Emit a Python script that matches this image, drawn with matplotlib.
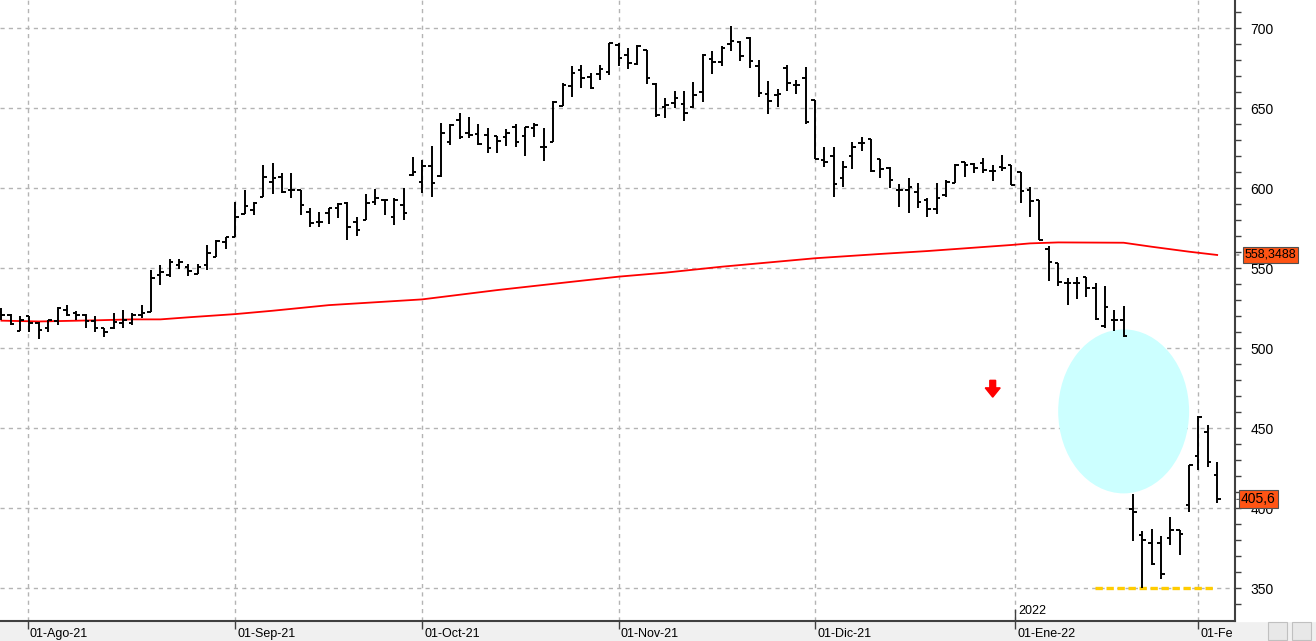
import numpy as np
import matplotlib.pyplot as plt
from matplotlib.patches import Ellipse, Rectangle
from matplotlib.transforms import blended_transform_factory, ScaledTranslation

# daily bars (open, high, low, close)
opens = [523, 520.8, 511, 520, 515.6, 513, 517, 524, 522, 521,
         517, 512.5, 513, 516, 515.6, 521, 523, 545.8, 545.8, 552,
         551, 546.5, 552, 557.3, 566.7, 569.4, 584, 586.5, 594.8, 604,
         606.9, 599, 599, 585.4, 579, 584.4, 588, 591, 579, 580,
         591.7, 593, 582, 589.6, 608.3, 604, 614, 607.7, 629, 642.7,
         634.4, 634, 633.3, 632.7, 632.3, 638.5, 632.7, 637.5, 625.6, 629.2,
         651.7, 664, 674, 669.4, 671.5, 673, 689.6, 683.3, 677.7, 686.5,
         665.2, 650.6, 653.5, 653, 650.6, 660.4, 681, 679, 690.2, 691.7,
         693.75, 676.5, 658.75, 658.3, 675, 664.6, 668.75, 655, 617.7, 620,
         606.25, 620.2, 628.5, 630.6, 618.1, 613, 599, 599, 598, 592.7,
         587, 596, 603.5, 616.7, 615.2, 615.6, 611, 613.5, 614.6, 610,
         599, 593, 562, 553.5, 540.6, 541, 544.4, 538, 514, 518,
         517.5, 399.8, 383.5, 378.3, 378.3, 381.4, 386.6, 402, 432.6, 447.8,
         421]
highs = [525, 521.3, 520.2, 520, 516.5, 518, 525.6, 527, 523.5, 521.5,
         520, 513, 521.8, 524, 521.8, 527, 549, 552, 555.6, 555.6,
         553, 553, 564.6, 567.7, 569.8, 591.7, 599, 591.7, 614.6, 615.6,
         609.8, 609.8, 599, 587.5, 585.4, 587.5, 590.6, 591.7, 582.3, 596.5,
         599.6, 593, 593.75, 600, 619.8, 617.7, 626.5, 641, 640.2, 646.9,
         644.4, 640.2, 638, 632.7, 636.9, 640.2, 638.5, 641, 637.5, 654.8,
         665.6, 676.5, 677, 672.3, 677, 691, 690.6, 688, 689.6, 686.5,
         665.6, 656.25, 661, 661, 666.7, 684, 686, 689, 701.5, 692.3,
         694.4, 680.2, 667, 661.9, 677, 668, 675.6, 655.2, 625.6, 625.6,
         617.3, 629.2, 632.3, 630.6, 618.1, 613.1, 602.5, 606.25, 603.5, 593.75,
         603.1, 605.2, 615.2, 616.7, 615.6, 618.75, 614.6, 620.8, 614.6, 610.4,
         600.6, 593, 564, 553.5, 543.75, 544.4, 544.4, 541, 538.9, 524,
         526.5, 409, 386, 387.3, 382.5, 394.4, 386.6, 427.3, 458, 452,
         428.8]
lows = [517.7, 514.6, 511, 510.4, 505.6, 510, 514.6, 520, 518, 513,
        510, 507, 511.9, 512.5, 514.6, 518.8, 523, 539.6, 544.4, 549.4,
        545, 546.5, 549, 557, 562, 569.4, 584, 583.3, 594.4, 596.5,
        597, 593.75, 583.3, 575.6, 575.6, 578, 581.25, 568, 570, 580,
        589.6, 583.3, 577, 580, 608, 597, 594.8, 607.3, 627, 630.6,
        631.25, 627, 622.3, 622.3, 626.5, 625.6, 620.4, 632.3, 617.3, 629.2,
        651.7, 657.3, 663, 662.3, 668, 670.8, 676.5, 674.4, 677, 665.2,
        644.8, 643.75, 650, 642.3, 650, 654, 671.5, 676.5, 686, 679.8,
        675, 656.9, 646.25, 651, 661, 659, 640.2, 618.1, 613.1, 594.4,
        601, 612, 623.5, 610.4, 606.25, 600, 588.5, 584.8, 588, 582,
        584, 594.4, 603.5, 607.3, 609.4, 609.4, 604.8, 611, 602, 590.6,
        581.9, 567.7, 542.3, 539, 527, 530.6, 532.3, 518, 512.5, 511,
        507, 379.75, 350.5, 364.4, 355.7, 377.25, 371, 397.7, 424.2, 425.7,
        403.3]
closes = [520.8, 515.2, 518, 516, 511.5, 517.7, 525.2, 520.8, 521, 517,
          512.5, 510.4, 516.7, 517.7, 520.8, 522, 543.75, 548, 554, 554,
          548.5, 551, 559.4, 567.3, 569.4, 582.3, 589, 591, 606.9, 606.25,
          598, 599, 589.6, 578.5, 579, 587.5, 590, 575.6, 574, 591,
          593.75, 592.7, 593, 584.4, 610.4, 614.2, 603.5, 634.8, 639.6, 632.3,
          633.3, 627.7, 625, 629.8, 634.4, 629, 638.5, 639.6, 625.6, 653.75,
          664.6, 672.3, 668.75, 663, 674.4, 690.6, 681.25, 678.5, 689, 668.75,
          645.8, 652, 656.25, 647.3, 658.3, 683.3, 679, 687.5, 692.3, 682.7,
          679.6, 659.4, 654.8, 658.75, 666, 664.6, 641.7, 618.1, 616.7, 603,
          613.5, 626, 628.1, 611, 612, 605.2, 599, 601, 591.7, 587,
          594, 604, 614.6, 614.6, 613, 611.5, 611, 612.5, 602, 598.5,
          592, 568, 554, 541.7, 540.6, 541, 538, 518.5, 526, 518,
          508, 397.5, 380.4, 365, 358.9, 386.6, 384, 427.3, 457, 429,
          405.6]

# moving average (red line), read at a few bars
ma_idx = [0, 4, 10, 14, 17, 20, 25, 29, 35, 45, 53, 61, 66, 71, 77, 87,
          94, 99, 108, 110, 113, 120, 123, 127, 130]
ma_val = [517.3, 516.8, 517.5, 518.1, 518.1, 519.4, 521.4, 523.5, 527.0,
          530.6, 536.4, 541.6, 544.8, 547.3, 551.0, 556.3, 559.0, 560.8,
          564.6, 565.6, 566.2, 566.0, 563.5, 560.4, 558.35]

month_pos = [2.8, 25, 45, 66, 87, 108.4, 128]
month_labels = ['01-Ago-21', '01-Sep-21', '01-Oct-21', '01-Nov-21',
                '01-Dic-21', '01-Ene-22', '01-Fe']
price_ticks = [350, 400, 450, 500, 550, 600, 650, 700]

fig = plt.figure(figsize=(13.16, 6.41), dpi=100, facecolor='#f0f0f0')
# white strip behind the price scale
fig.patches.append(Rectangle((0.9384, 0.0312), 0.0616, 0.9688,
                             transform=fig.transFigure, color='white', zorder=-5))
ax = fig.add_axes([0, 0.0312, 0.9384, 0.9688])
ax.set_facecolor('white')

x = np.arange(len(opens))
ax.vlines(x, lows, highs, color='black', lw=1.4, zorder=4)
ax.hlines(opens, x - 0.38, x, color='black', lw=1.4, zorder=4)
ax.hlines(closes, x, x + 0.38, color='black', lw=1.4, zorder=4)

ax.plot(ma_idx, ma_val, color='#ff0000', lw=1.3, zorder=3)

# annotations
ax.add_patch(Ellipse((120, 460.6), width=14.0, height=102.5,
                     facecolor='#ccffff', edgecolor='none', zorder=2))
ax.hlines(350, 116.9, 129.9, colors='#ffcc00', lw=2.4,
          linestyles=(0, (2.2, 1.1)), zorder=3)
ax.arrow(106, 480, 0, -10.5, width=0.62, head_width=1.6, head_length=5.8,
         length_includes_head=True, color='#ff0000', zorder=5)

ax.set_xlim(-0.15, 131.9)
ax.set_ylim(329.6, 717.7)

ax.set_axisbelow(True)
ax.grid(True, color='#b4b4b4', linestyle=(0, (3, 3)), lw=1)

for s in ['top', 'left']:
    ax.spines[s].set_visible(False)
for s in ['right', 'bottom']:
    ax.spines[s].set_color('#404040')
    ax.spines[s].set_linewidth(1.5)

ax.yaxis.tick_right()
ax.set_yticks(price_ticks)
ax.set_yticks(np.arange(340, 720, 10), minor=True)
ax.tick_params(axis='y', which='both', direction='out', length=4, width=1,
               colors='#404040', labelcolor='black', labelsize=10, pad=7)
for lab in ax.get_yticklabels():
    lab.set_family('Liberation Sans')

ax.set_xticks(month_pos)
ax.set_xticklabels(month_labels, ha='left', family='Liberation Sans',
                   fontsize=9)
ax.tick_params(axis='x', direction='out', length=6, width=1, colors='#404040',
               labelcolor='black', pad=-1)
shift = ScaledTranslation(2 / 100, 0, fig.dpi_scale_trans)
for lab in ax.get_xticklabels():
    lab.set_transform(lab.get_transform() + shift)

# year mark
bt = blended_transform_factory(ax.transData, ax.transAxes)
ax.plot([108.4, 108.4], [0, 0.018], transform=bt, color='#404040', lw=1, zorder=5)
ax.text(108.7, 0.006, '2022', transform=bt, fontsize=9,
        family='Liberation Sans', va='bottom', ha='left')

# last value labels on the price axis
rt = blended_transform_factory(ax.transAxes, ax.transData)
ax.text(1.008, 558.35, '558,3488', transform=rt, fontsize=9,
        family='Liberation Sans', va='center', ha='left', clip_on=False,
        zorder=6,
        bbox=dict(boxstyle='square,pad=0.15', facecolor='#ff5414',
                  edgecolor='#505050', lw=0.8))
ax.text(1.005, 405.6, '405,6', transform=rt, fontsize=10,
        family='Liberation Sans', va='center', ha='left', clip_on=False,
        zorder=6,
        bbox=dict(boxstyle='square,pad=0.15', facecolor='#ff5414',
                  edgecolor='#505050', lw=0.8))
for v in [558.35, 405.6]:
    ax.annotate('', xy=(1.0015, v), xytext=(1.0055, v), xycoords=rt,
                arrowprops=dict(arrowstyle='-', color='#606060', lw=0.8),
                annotation_clip=False)

# toolbar icons in the corner
for x0 in [0.9635, 0.9815]:
    fig.patches.append(Rectangle((x0, 0.002), 0.0145, 0.027,
                                 transform=fig.transFigure, facecolor='#e8e8e8',
                                 edgecolor='#c0c0c0', lw=0.8))

fig.savefig('out.png', dpi=100, facecolor=fig.get_facecolor())
